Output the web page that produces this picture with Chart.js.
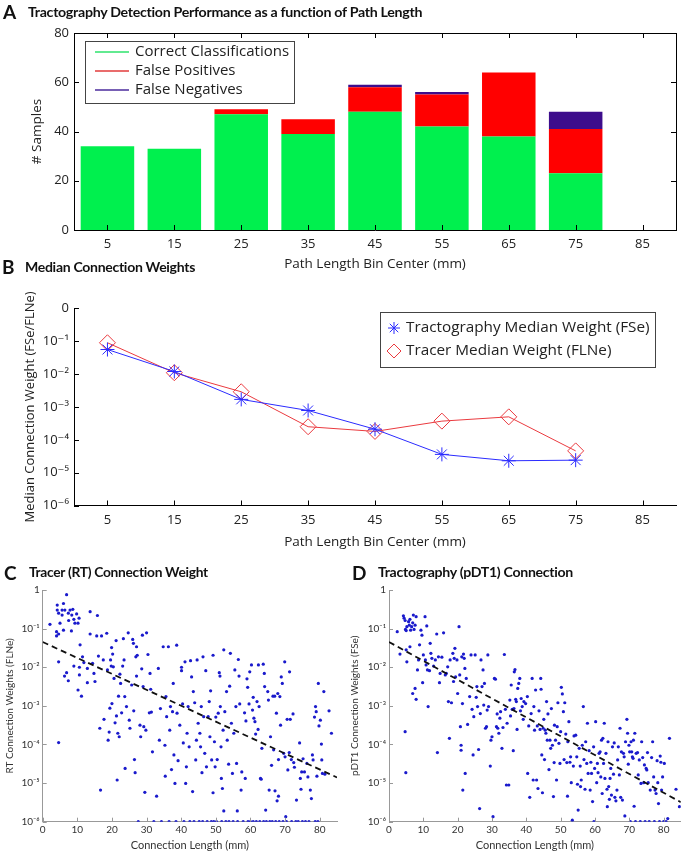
<!DOCTYPE html>
<html>
<head>
<meta charset="utf-8">
<script src="https://cdn.jsdelivr.net/npm/chart.js@4.4.0/dist/chart.umd.min.js"></script>
<style>
body { margin: 0; background: #fff; }
#wrap { position: relative; width: 685px; height: 853px; overflow: hidden; font-family: Lato, sans-serif; }
canvas { position: absolute; }
.panel { position: absolute; font-weight: bold; white-space: nowrap; color: #111; z-index: 2; line-height: 1; }
.letter { font-size: 19px; }
.ttl { font-size: 14px; letter-spacing: -0.3px; transform-origin: left center; }
</style>
</head>
<body>
<div id="wrap">
  <canvas id="chartA" width="685" height="275" style="left:0;top:0"></canvas>
  <canvas id="chartB" width="685" height="275" style="left:0;top:280px"></canvas>
  <canvas id="chartC" width="342" height="293" style="left:0;top:560px"></canvas>
  <canvas id="chartD" width="343" height="293" style="left:342px;top:560px"></canvas>

  <div class="panel letter" style="left:3px;top:2px">A</div>
  <div class="panel ttl" data-w="394" style="left:28px;top:5px">Tractography Detection Performance as a function of Path Length</div>
  <div class="panel letter" style="left:2px;top:257px">B</div>
  <div class="panel ttl" data-w="170" style="left:25px;top:260px">Median Connection Weights</div>
  <div class="panel letter" style="left:4px;top:563px">C</div>
  <div class="panel ttl" data-w="179" style="left:29px;top:565px">Tracer (RT) Connection Weight</div>
  <div class="panel letter" style="left:352px;top:563px">D</div>
  <div class="panel ttl" data-w="195" style="left:378px;top:565px">Tractography (pDT1) Connection</div>
</div>
<script>
'use strict';

// panel A
const binCenters = ['5', '15', '25', '35', '45', '55', '65', '75', '85'];
const correctCls = [34, 33, 47, 39, 48, 42, 38, 23, 0];
const falsePos = [0, 0, 2, 6, 10, 13, 26, 18, 0];
const falseNeg = [0, 0, 0, 0, 1, 1, 0, 7, 0];
const sampleTicks = [0, 20, 40, 60, 80];

// panel B
const tractMedian = [0.056, 0.012, 0.0017, 0.00078, 0.00021, 3.6e-5, 2.3e-5, 2.4e-5];
const tracerMedian = [0.09, 0.011, 0.0029, 0.00025, 0.00018, 0.00037, 0.0005, 4.6e-5];
const weightTicks = [1e-6, 1e-5, 1e-4, 1e-3, 1e-2, 1e-1, 1];
const weightLabelsB = ['10⁻⁶', '10⁻⁵', '10⁻⁴', '10⁻³', '10⁻²', '10⁻¹', '0'];
const weightLabelsCD = ['10⁻⁶', '10⁻⁵', '10⁻⁴', '10⁻³', '10⁻²', '10⁻¹', '1'];

// panels C and D : [length mm, log10 weight]
const lengthTicks = [0, 10, 20, 30, 40, 50, 60, 70, 80];
const fitLen = [0, 85];
const tracerFit = [0.045, 1.4e-5];
const tractFit = [0.045, 3.2e-6];

const tracerPts = [[2.1,-0.89],[4.2,-0.39],[4.2,-0.52],[4.6,-0.60],[5.0,-0.86],[4.0,-1.08],[4.0,-1.19],[4.6,-1.14],[5.6,-0.52],[5.6,-0.65],[6.0,-0.35],[6.4,-0.52],[6.9,-0.12],[7.4,-0.60],[7.5,-0.79],[7.9,-0.52],[8.4,-0.65],[8.7,-0.50],[9.0,-0.76],[9.3,-0.86],[9.8,-0.62],[10.2,-0.86],[10.5,-0.73],[8.3,-1.06],[6.0,-1.04],[4.6,-1.86],[4.6,-3.95],[6.3,-2.23],[6.9,-2.14],[7.4,-2.35],[9.0,-1.97],[10.6,-2.00],[10.6,-2.20],[10.2,-2.59],[11.2,-2.75],[10.8,-1.42],[11.5,-1.73],[11.9,-1.88],[12.9,-2.03],[12.9,-2.40],[13.7,-0.56],[13.7,-1.14],[14.4,-1.90],[14.8,-2.16],[15.1,-2.37],[15.6,-1.19],[15.8,-0.66],[16.1,-1.71],[16.5,-3.58],[16.7,-5.18],[17.0,-1.19],[17.5,-1.81],[17.7,-3.35],[18.5,-1.12],[18.7,-2.07],[18.9,-3.89],[19.2,-3.68],[19.4,-3.06],[19.6,-1.81],[19.8,-1.97],[19.9,-1.49],[20.0,-2.94],[20.2,-1.66],[20.4,-1.99],[20.6,-2.29],[20.9,-3.44],[21.2,-1.31],[21.3,-3.26],[21.5,-4.92],[21.7,-3.71],[21.9,-2.75],[22.1,-3.80],[22.3,-2.18],[22.5,-2.42],[22.8,-3.18],[23.1,-1.97],[23.3,-1.26],[23.5,-1.81],[23.7,-2.76],[23.8,-4.62],[24.2,-3.02],[24.7,-1.11],[25.0,-3.37],[25.2,-3.58],[25.7,-2.46],[26.0,-1.28],[26.2,-1.38],[26.3,-3.13],[26.5,-4.39],[26.7,-4.73],[26.9,-1.73],[27.1,-1.47],[27.1,-2.23],[27.3,-1.69],[27.6,-6],[28.1,-3.50],[28.3,-3.80],[28.6,-2.04],[28.8,-1.17],[29.0,-2.50],[29.2,-3.54],[29.5,-5.24],[29.8,-3.63],[30.0,-1.11],[30.4,-1.67],[30.8,-3.18],[31.0,-2.16],[31.2,-2.57],[31.4,-3.16],[31.7,-4.19],[32.1,-6],[32.9,-5.34],[33.4,-2.03],[33.7,-3.89],[34.0,-3.07],[34.3,-6],[34.8,-1.47],[35.3,-4.02],[35.4,-4.82],[35.6,-2.76],[35.8,-3.28],[36.3,-1.47],[36.5,-6],[36.7,-3.63],[36.9,-3.02],[37.2,-4.65],[37.5,-3.15],[37.7,-2.42],[37.9,-4.27],[38.2,-5.01],[38.5,-6],[38.7,-1.43],[38.8,-3.19],[39.1,-4.42],[39.6,-3.50],[40.1,-2.00],[40.1,-2.09],[40.4,-2.95],[40.6,-3.96],[40.8,-6],[41.1,-1.86],[41.3,-5.01],[41.5,-4.58],[41.7,-3.71],[42.0,-3.02],[42.3,-4.06],[42.5,-6],[42.7,-1.83],[43.0,-2.25],[43.3,-5.22],[43.5,-2.63],[43.7,-6],[43.9,-2.92],[44.2,-4.40],[44.4,-3.89],[44.6,-1.81],[44.9,-3.45],[45.2,-6],[45.4,-3.71],[45.6,-4.06],[45.8,-3.02],[46.0,-4.73],[46.2,-6],[46.3,-1.73],[46.5,-3.28],[46.8,-4.23],[47.1,-2.09],[47.3,-4.58],[47.5,-6],[47.8,-3.28],[48.1,-2.89],[48.3,-3.80],[48.5,-2.61],[48.7,-6],[48.8,-4.40],[49.2,-1.69],[49.2,-5.25],[49.4,-6],[49.6,-3.93],[49.8,-4.58],[50.0,-3.29],[50.2,-6],[50.4,-4.39],[50.7,-3.19],[51.0,-2.14],[51.2,-2.23],[51.3,-3.02],[51.5,-4.06],[51.6,-4.88],[51.7,-6],[51.9,-5.14],[52.1,-3.63],[52.3,-1.55],[52.3,-5.72],[52.6,-3.15],[52.9,-6],[53.1,-2.63],[53.3,-3.89],[53.7,-4.51],[53.8,-6],[54.0,-2.49],[54.2,-1.64],[54.5,-3.45],[54.8,-4.75],[55.0,-6],[55.2,-3.71],[55.5,-2.07],[55.8,-3.02],[56.0,-4.49],[56.2,-5.72],[56.3,-6],[56.5,-1.80],[56.7,-2.23],[56.9,-2.95],[57.3,-5.18],[57.5,-4.71],[57.9,-6],[58.3,-3.18],[58.5,-4.88],[58.7,-3.39],[59.0,-2.30],[59.2,-2.52],[59.3,-6],[59.6,-2.95],[59.8,-2.12],[60.0,-6],[60.3,-1.94],[60.6,-3.11],[60.8,-2.78],[60.8,-6],[61.0,-3.32],[61.3,-3.41],[61.5,-3.73],[61.7,-6],[61.9,-2.89],[62.2,-3.61],[62.3,-1.94],[62.5,-3.02],[62.7,-6],[62.9,-4.88],[63.1,-4.90],[63.3,-4.10],[63.7,-1.92],[63.8,-6],[64.0,-2.16],[64.1,-2.50],[64.4,-5.70],[64.6,-6],[65.0,-2.63],[65.2,-2.85],[65.4,-5.18],[65.6,-6],[65.8,-3.80],[66.1,-4.54],[66.3,-6],[66.5,-2.75],[66.7,-4.14],[67.0,-2.75],[67.1,-5.20],[67.3,-6],[67.5,-3.19],[67.7,-5.46],[67.9,-2.68],[68.1,-5.34],[68.1,-4.39],[68.3,-6],[68.5,-2.76],[68.7,-3.50],[68.9,-2.25],[69.2,-2.42],[69.4,-6],[69.6,-4.23],[69.9,-1.86],[70.0,-4.32],[70.2,-5.87],[70.4,-6],[70.6,-3.35],[70.8,-4.66],[71.2,-4.21],[71.3,-2.12],[71.5,-3.35],[71.8,-4.39],[71.9,-6],[72.3,-3.21],[72.5,-4.47],[72.7,-4.59],[73.1,-6],[73.3,-5.44],[73.8,-6],[74.2,-3.96],[74.4,-4.88],[74.6,-5.16],[74.8,-4.71],[75.0,-6],[75.2,-4.37],[75.6,-4.71],[75.9,-6],[76.3,-4.49],[76.6,-4.84],[76.9,-6],[77.3,-5.18],[77.6,-5.40],[77.9,-4.27],[78.1,-4.40],[78.5,-3.29],[78.7,-6],[78.8,-3.02],[79.0,-3.15],[79.2,-4.82],[79.5,-6],[79.6,-2.42],[79.8,-3.52],[80.2,-3.37],[80.5,-3.99],[80.6,-4.40],[80.8,-4.75],[81.2,-2.63],[81.5,-4.77],[82.7,-3.13],[83.4,-3.71]];

const tractPts = [[2.4,-1.08],[3.2,-1.66],[4.2,-0.67],[4.4,-0.73],[4.7,-0.79],[4.8,-1.02],[5.0,-1.05],[5.2,-0.95],[5.7,-0.82],[5.9,-0.91],[6.1,-0.76],[6.3,-1.04],[6.6,-0.95],[6.9,-0.85],[7.1,-0.65],[7.3,-1.02],[7.6,-0.91],[7.9,-0.69],[5.0,-1.55],[5.2,-1.86],[6.1,-1.47],[6.9,-2.68],[7.6,-2.55],[7.9,-2.83],[4.7,-3.67],[4.9,-4.73],[8.3,-2.07],[8.6,-1.81],[8.9,-1.42],[9.3,-1.04],[9.6,-1.17],[9.8,-2.40],[10.0,-1.68],[10.5,-0.69],[10.6,-1.81],[10.8,-1.94],[11.0,-0.93],[11.2,-2.07],[11.4,-3.02],[11.8,-2.09],[12.0,-1.38],[12.2,-1.64],[12.5,-1.77],[13.0,-1.97],[13.5,-1.81],[13.9,-1.14],[14.1,-4.21],[14.4,-1.73],[14.7,-2.40],[14.9,-2.16],[15.4,-1.74],[15.9,-1.11],[16.4,-2.20],[16.7,-2.16],[17.1,-1.99],[17.3,-2.89],[17.6,-3.84],[17.8,-1.81],[18.2,-2.92],[18.6,-1.64],[18.8,-2.37],[19.0,-1.77],[19.2,-1.51],[19.4,-2.25],[19.8,-1.81],[20.0,-2.68],[20.4,-0.95],[20.6,-2.20],[20.8,-3.54],[21.0,-4.15],[21.0,-4.02],[21.2,-1.73],[21.4,-2.94],[21.5,-5.18],[21.7,-1.66],[21.9,-1.77],[22.1,-2.03],[22.2,-4.75],[22.5,-2.29],[22.9,-3.48],[23.5,-2.76],[23.9,-1.68],[24.2,-3.09],[24.5,-4.27],[24.7,-3.28],[25.1,-1.68],[25.4,-2.78],[25.6,-2.50],[25.8,-3.02],[26.1,-4.13],[26.4,-5.66],[26.6,-3.20],[26.8,-1.81],[27.1,-2.50],[27.4,-2.07],[27.6,-2.98],[27.8,-2.42],[28.1,-3.58],[28.4,-3.54],[28.6,-3.11],[28.8,-1.68],[29.0,-3.02],[29.5,-4.56],[29.7,-3.89],[30.0,-3.80],[30.3,-5.87],[30.7,-2.29],[31.0,-2.31],[31.3,-3.54],[31.5,-3.21],[31.7,-3.58],[32.0,-3.71],[32.3,-3.32],[32.5,-3.15],[32.9,-4.10],[33.2,-3.56],[33.6,-1.67],[33.9,-3.09],[34.2,-5.05],[34.4,-3.45],[34.9,-5.05],[35.2,-2.85],[35.4,-3.26],[35.6,-2.46],[35.9,-3.09],[36.2,-4.16],[36.4,-3.07],[36.5,-2.12],[36.7,-2.06],[36.9,-2.83],[37.1,-2.89],[37.3,-3.61],[37.5,-2.55],[37.8,-2.42],[38.1,-2.29],[38.3,-3.13],[38.5,-2.81],[38.8,-3.02],[39.1,-3.35],[39.3,-2.89],[39.8,-2.94],[40.3,-2.76],[40.4,-4.75],[40.7,-3.52],[41.0,-5.37],[41.4,-3.20],[41.7,-2.29],[42.0,-4.92],[42.2,-3.02],[42.4,-3.63],[42.7,-2.59],[43.0,-4.92],[43.2,-3.52],[43.4,-5.14],[43.7,-3.13],[44.0,-3.61],[44.2,-2.29],[44.3,-2.57],[44.5,-4.27],[44.7,-5.25],[44.9,-3.58],[45.1,-3.35],[45.3,-4.39],[45.5,-3.63],[45.7,-3.71],[45.9,-2.89],[46.1,-3.89],[46.3,-3.21],[46.6,-4.65],[46.9,-3.89],[47.1,-4.10],[47.3,-3.07],[47.6,-4.02],[47.9,-5.35],[48.1,-4.47],[48.2,-3.50],[48.5,-3.89],[48.8,-4.92],[49.0,-3.54],[49.2,-2.92],[49.5,-3.97],[49.8,-4.49],[50.0,-3.67],[50.2,-2.52],[50.5,-2.69],[50.8,-3.15],[51.0,-4.39],[51.2,-2.92],[51.5,-3.73],[51.8,-4.47],[52.0,-5.34],[52.1,-3.93],[52.4,-3.41],[52.7,-4.46],[52.9,-4.32],[53.1,-4.99],[53.4,-5.96],[53.7,-4.56],[53.9,-3.78],[54.4,-3.76],[54.7,-4.32],[54.9,-5.03],[55.1,-5.70],[55.4,-4.10],[55.7,-4.56],[55.8,-5.09],[56.0,-4.92],[56.3,-4.02],[56.6,-3.02],[56.8,-4.39],[57.1,-5.16],[57.3,-3.93],[57.6,-4.49],[57.8,-3.45],[58.0,-4.75],[58.3,-4.16],[58.6,-5.18],[58.8,-4.46],[59.0,-4.75],[59.3,-5.48],[59.6,-4.06],[59.7,-6],[59.9,-4.62],[60.2,-3.41],[60.5,-4.99],[60.7,-4.49],[60.9,-4.73],[61.2,-4.23],[61.5,-4.19],[61.7,-4.84],[61.9,-3.89],[62.1,-5.27],[62.3,-3.84],[62.5,-4.49],[62.7,-3.45],[62.9,-4.88],[63.2,-4.23],[63.5,-5.16],[63.6,-5.61],[63.8,-3.93],[64.0,-5.09],[64.2,-5.42],[64.4,-4.88],[64.6,-4.62],[64.8,-5.31],[65.1,-4.06],[65.4,-4.77],[65.6,-3.96],[65.8,-5.37],[66.1,-5.46],[66.4,-5.18],[66.6,-4.40],[66.8,-4.06],[67.1,-4.79],[67.3,-3.58],[67.5,-5.37],[67.7,-4.19],[68.0,-5.44],[68.3,-4.23],[68.5,-4.32],[68.7,-5.85],[68.9,-3.93],[69.3,-3.35],[69.5,-3.71],[69.7,-4.51],[69.9,-4.02],[70.1,-4.19],[70.3,-6],[70.5,-3.93],[70.7,-4.19],[70.9,-4.32],[71.1,-4.36],[71.2,-3.89],[71.4,-5.60],[71.6,-3.71],[71.8,-6],[72.0,-4.23],[72.4,-4.21],[72.6,-4.79],[72.9,-4.40],[73.2,-6],[73.4,-5.01],[73.6,-3.93],[73.9,-4.34],[74.2,-4.99],[74.4,-4.53],[74.6,-6],[74.9,-4.62],[75.1,-4.66],[75.3,-4.21],[75.5,-4.99],[75.8,-6],[76.1,-5.18],[76.5,-4.34],[76.8,-3.93],[77.1,-4.84],[77.3,-6],[77.5,-5.18],[77.8,-5.27],[78.1,-4.42],[78.3,-4.99],[78.5,-5.53],[78.8,-6],[79.0,-4.30],[79.2,-4.46],[79.4,-5.18],[79.7,-4.84],[80.0,-6],[80.2,-4.49],[80.7,-6],[81.2,-5.92],[81.7,-3.84],[83.6,-5.16],[84.6,-5.61]];

Chart.defaults.font.family = "Lato, 'DejaVu Sans', sans-serif";
Chart.defaults.color = '#222';
const OPEN = "'Open Sans', 'DejaVu Sans', sans-serif";

// ticks pointing into the plot, matlab style, plus optional full box
const innerTicks = {
    id: 'innerTicks',
    afterDatasetsDraw(chart, args, o) {
        const ctx = chart.ctx;
        const a = chart.chartArea;
        const len = o.len || 5;
        const xs = chart.scales.x, ys = chart.scales.y;
        ctx.save();
        ctx.strokeStyle = o.color || '#000';
        ctx.lineWidth = 1;
        ctx.beginPath();
        xs.ticks.forEach((t, i) => {
            const px = Math.round(xs.getPixelForTick(i)) + 0.5;
            ctx.moveTo(px, a.bottom); ctx.lineTo(px, a.bottom - len);
            if (o.box) { ctx.moveTo(px, a.top); ctx.lineTo(px, a.top + len); }
        });
        ys.ticks.forEach((t, i) => {
            const py = Math.round(ys.getPixelForTick(i)) + 0.5;
            ctx.moveTo(a.left, py); ctx.lineTo(a.left + len, py);
            if (o.box) { ctx.moveTo(a.right, py); ctx.lineTo(a.right - len, py); }
        });
        if (o.box) {
            ctx.moveTo(a.left, Math.round(a.top) + 0.5); ctx.lineTo(a.right, Math.round(a.top) + 0.5);
            ctx.moveTo(Math.round(a.right) + 0.5, a.top); ctx.lineTo(Math.round(a.right) + 0.5, a.bottom);
        }
        ctx.stroke();
        ctx.restore();
    }
};

// legend box drawn inside the plot
const boxLegend = {
    id: 'boxLegend',
    afterDraw(chart, args, o) {
        if (!o.w) return;
        const ctx = chart.ctx;
        ctx.save();
        ctx.fillStyle = '#fff';
        ctx.fillRect(o.x, o.y, o.w, o.h);
        ctx.strokeStyle = '#444';
        ctx.lineWidth = 1;
        ctx.strokeRect(o.x + 0.5, o.y + 0.5, o.w, o.h);
        ctx.font = o.size + 'px ' + OPEN;
        ctx.textBaseline = 'middle';
        chart.data.datasets.forEach((ds, i) => {
            const cy = o.y + o.row0 + i * o.rowH;
            if (o.sym === 'line') {
                ctx.strokeStyle = ds.legendColor;
                ctx.lineWidth = 1.5;
                ctx.beginPath();
                ctx.moveTo(o.x + o.symX, cy);
                ctx.lineTo(o.x + o.symX + o.symW, cy);
                ctx.stroke();
            } else {
                ctx.strokeStyle = ds.borderColor;
                ctx.fillStyle = ds.pointBackgroundColor;
                ctx.lineWidth = 1;
                Chart.helpers.drawPoint(ctx, {pointStyle: ds.pointStyle, radius: ds.pointRadius - 1, borderWidth: 1, rotation: 0}, o.x + o.symX, cy);
            }
            ctx.fillStyle = '#222';
            ctx.fillText(ds.label, o.x + o.textX, cy);
        });
        ctx.restore();
    }
};

const base = {responsive: false, animation: false, devicePixelRatio: 1, events: []};

// A : stacked bars
new Chart(document.getElementById('chartA'), {
    type: 'bar',
    data: {
        labels: binCenters,
        datasets: [
            {label: 'Correct Classifications', data: correctCls, backgroundColor: '#00f04e', legendColor: '#2ee36c'},
            {label: 'False Positives', data: falsePos, backgroundColor: '#ff0000', legendColor: '#e23b3b'},
            {label: 'False Negatives', data: falseNeg, backgroundColor: '#3d0d8c', legendColor: '#4b2b9c'}
        ]
    },
    options: {
        ...base,
        layout: {padding: {left: 0, right: 9, top: 33, bottom: 0}},
        datasets: {bar: {barPercentage: 0.8, categoryPercentage: 1}},
        scales: {
            x: {
                stacked: true,
                grid: {display: false, drawTicks: false},
                border: {color: '#000'},
                ticks: {padding: 6, font: {size: 13, family: OPEN}, color: '#222'},
                title: {display: true, text: 'Path Length Bin Center (mm)', font: {size: 13.5, family: OPEN}, color: '#222', padding: {top: 0, bottom: 2.9}},
                afterFit: (s) => { s.height = 45; }
            },
            y: {
                stacked: true, min: 0, max: 80,
                grid: {display: false, drawTicks: false},
                border: {color: '#000'},
                afterBuildTicks: (s) => { s.ticks = sampleTicks.map(v => ({value: v})); },
                ticks: {padding: 5, font: {size: 13, family: OPEN}, color: '#222'},
                title: {display: true, text: '# Samples', font: {size: 13.5, family: OPEN}, color: '#222', padding: {top: 28.9, bottom: 0}},
                afterFit: (s) => { s.width = 74; }
            }
        },
        plugins: {
            legend: {display: false}, tooltip: {enabled: false},
            innerTicks: {box: true, len: 5},
            boxLegend: {x: 85, y: 41, w: 209, h: 62, row0: 11, rowH: 19, sym: 'line', symX: 10, symW: 34, textX: 50, size: 15}
        }
    },
    plugins: [innerTicks, boxLegend]
});

// B : median weights, log scale
new Chart(document.getElementById('chartB'), {
    type: 'line',
    data: {
        labels: binCenters,
        datasets: [
            {label: 'Tractography Median Weight (FSe)', data: tractMedian, borderColor: '#2b2bff', backgroundColor: '#2b2bff',
             borderWidth: 1, pointStyle: 'star', pointRadius: 7, pointBorderWidth: 1, pointBackgroundColor: '#2b2bff'},
            {label: 'Tracer Median Weight (FLNe)', data: tracerMedian, borderColor: '#ea3a3f', backgroundColor: '#ea3a3f',
             borderWidth: 1, pointStyle: 'rectRot', pointRadius: 8, pointBorderWidth: 1, pointBackgroundColor: 'rgba(255,255,255,0)'}
        ]
    },
    options: {
        ...base,
        layout: {padding: {left: 0, right: 9, top: 28.4, bottom: 0}},
        scales: {
            x: {
                offset: true,
                grid: {display: false, drawTicks: false},
                border: {color: '#000'},
                ticks: {padding: 6.5, font: {size: 13, family: OPEN}, color: '#222'},
                title: {display: true, text: 'Path Length Bin Center (mm)', font: {size: 13.5, family: OPEN}, color: '#222', padding: {top: 0, bottom: 4.9}},
                afterFit: (s) => { s.height = 49.5; }
            },
            y: {
                type: 'logarithmic', min: 1e-6, max: 1,
                grid: {display: false, drawTicks: false},
                border: {color: '#000'},
                afterBuildTicks: (s) => { s.ticks = weightTicks.map(v => ({value: v})); },
                ticks: {padding: 5, font: {size: 13, family: OPEN}, color: '#222', callback: (v, i) => weightLabelsB[i]},
                title: {display: true, text: 'Median Connection Weight (FSe/FLNe)', font: {size: 13, family: OPEN}, color: '#222', padding: {top: 22.9, bottom: 0}},
                afterFit: (s) => { s.width = 74; }
            }
        },
        plugins: {
            legend: {display: false}, tooltip: {enabled: false},
            innerTicks: {box: false, len: 5},
            boxLegend: {x: 380, y: 32, w: 275, h: 55, row0: 16, rowH: 23, sym: 'point', symX: 14, textX: 26, size: 15.3}
        }
    },
    plugins: [innerTicks, boxLegend]
});

// C and D : scatter with dashed fit
function scatterChart(id, pts, fit, yTitle, yAxisW, titlePad, padRight) {
    new Chart(document.getElementById(id), {
        type: 'scatter',
        data: {
            datasets: [
                {data: fitLen.map((x, i) => ({x: x, y: fit[i]})), showLine: true, borderColor: '#111', borderWidth: 1.8,
                 borderDash: [6, 4], pointRadius: 0, order: 0},
                {data: pts.map(p => ({x: p[0], y: Math.pow(10, p[1])})), pointRadius: 1.6, pointBorderWidth: 0,
                 backgroundColor: '#1a1acc', order: 1}
            ]
        },
        options: {
            ...base,
            layout: {padding: {left: 0, right: padRight, top: 30, bottom: 0}},
            scales: {
                x: {
                    type: 'linear', min: 0, max: 85,
                    grid: {display: false, drawTicks: false},
                    border: {color: '#999'},
                    afterBuildTicks: (s) => { s.ticks = lengthTicks.map(v => ({value: v})); },
                    ticks: {padding: 2, font: {size: 10}, color: '#333'},
                    title: {display: true, text: 'Connection Length (mm)', font: {size: 11}, color: '#333', padding: {top: 0, bottom: 1.4}},
                    afterFit: (s) => { s.height = 31.3; }
                },
                y: {
                    type: 'logarithmic', min: 1e-6, max: 1,
                    grid: {display: false, drawTicks: false},
                    border: {color: '#999'},
                    afterBuildTicks: (s) => { s.ticks = weightTicks.map(v => ({value: v})); },
                    ticks: {padding: 3, font: {size: 10}, color: '#333', callback: (v, i) => weightLabelsCD[i]},
                    title: {display: true, text: yTitle, font: {size: 10}, color: '#333', padding: {top: titlePad, bottom: 0}},
                    afterFit: (s) => { s.width = yAxisW; }
                }
            },
            plugins: {legend: {display: false}, tooltip: {enabled: false}, innerTicks: {box: false, len: 4, color: '#999'}}
        },
        plugins: [innerTicks]
    });
}

scatterChart('chartC', tracerPts, tracerFit, 'RT Connection Weights (FLNe)', 42.7, 3.3, 5);
scatterChart('chartD', tractPts, tractFit, 'pDT1 Connection Weights (FSe)', 47, 7, 4.2);

// squeeze the bold panel titles to the widths in the figure
document.querySelectorAll('.ttl').forEach(el => {
    const w = el.getBoundingClientRect().width;
    el.style.transform = 'scaleX(' + (parseFloat(el.dataset.w) / w).toFixed(3) + ')';
});
</script>
</body>
</html>
